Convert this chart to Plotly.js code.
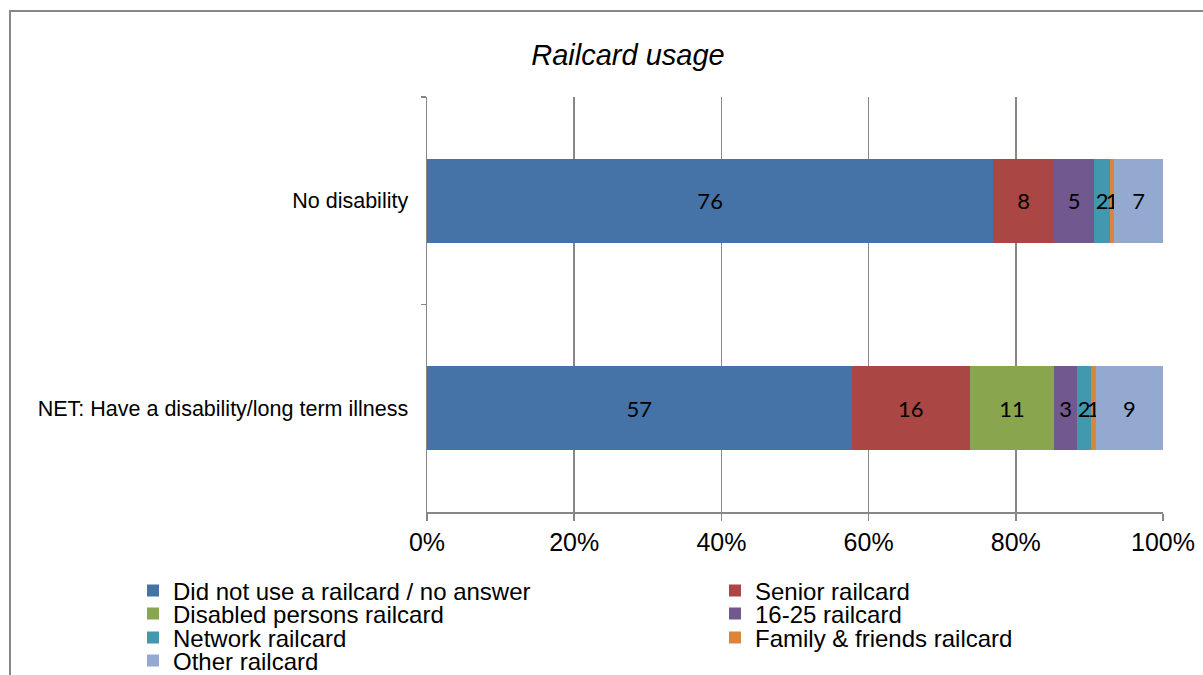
<!DOCTYPE html>
<html>
<head>
<meta charset="utf-8">
<script src="https://cdn.plot.ly/plotly-3.0.1.min.js"></script>
<style>
  html, body { margin: 0; padding: 0; background: #ffffff; }
  #chart { width: 1203px; height: 675px; }
</style>
</head>
<body>
<div id="chart"></div>
<script>
// ---- Data ----
const categories = ['No disability', 'NET: Have a disability/long term illness'];
const seriesNames = [
  'Did not use a railcard / no answer',
  'Senior railcard',
  'Disabled persons railcard',
  '16-25 railcard',
  'Network railcard',
  'Family & friends railcard',
  'Other railcard'
];
const didNotUse = [76.4, 57.4];
const senior    = [8.2, 16.0];
const disabled  = [null, 11.4];
const youth     = [5.4, 3.1];
const network   = [2.2, 1.9];
const family    = [0.5, 0.6];
const other     = [6.6, 9.1];
const seriesValues = [didNotUse, senior, disabled, youth, network, family, other];
const xTickVals = [0, 20, 40, 60, 80, 100];
const xTickLabels = ['0%', '20%', '40%', '60%', '80%', '100%'];
const titleText = 'Railcard usage';

// ---- Styles ----
const colors = ['#4572A7', '#AA4643', '#89A54E', '#71588F', '#4198AF', '#DB843D', '#93A9CF'];
const W = 1203, H = 675;
const M = { l: 427, r: 40, t: 97, b: 163 };
const plotW = W - M.l - M.r, plotH = H - M.t - M.b;
const px2x = p => (p - M.l) / plotW;
const py2y = p => (H - M.b - p) / plotH;
const gray = '#878787';
const sans = 'Liberation Sans, Arial, sans-serif';

const traces = seriesNames.map((name, i) => ({
  type: 'bar',
  orientation: 'h',
  name: name,
  y: categories,
  x: seriesValues[i],
  text: seriesValues[i].map(v => (v === null || v === 0) ? '' : String(Math.round(v))),
  textposition: 'inside',
  insidetextanchor: 'middle',
  textangle: 0,
  constraintext: 'none',
  textfont: { family: 'Lato, Carlito, Calibri, sans-serif', size: 22, color: '#000000' },
  marker: { color: colors[i], line: { width: 0 } },
  legend: i === 0 ? 'legend' : 'legend' + (i + 1),
  hoverinfo: 'name+x'
}));

const legendRowsPx = [591, 614, 638, 661];
const legendColsPx = [133, 715];

const layout = {
  width: W, height: H,
  margin: { l: M.l, r: M.r, t: M.t, b: M.b, autoexpand: false },
  paper_bgcolor: '#ffffff',
  plot_bgcolor: '#ffffff',
  barmode: 'stack',
  barnorm: 'percent',
  bargap: 0.595,
  title: {
    text: titleText,
    font: { family: sans, size: 29, style: 'italic', color: '#000000' },
    x: 628 / W, xanchor: 'center', xref: 'container',
    y: 1 - 55 / H, yanchor: 'middle', yref: 'container'
  },
  xaxis: {
    range: [0, 100],
    tickmode: 'array',
    tickvals: xTickVals,
    ticktext: xTickLabels,
    showgrid: true, gridcolor: gray, gridwidth: 1.5,
    showline: true, linecolor: gray, linewidth: 1.5,
    ticks: 'outside', ticklen: 7, tickcolor: gray, tickwidth: 1.5,
    tickfont: { family: sans, size: 25, color: '#000000' },
    zeroline: false, fixedrange: true
  },
  yaxis: {
    type: 'category',
    autorange: 'reversed',
    showline: true, linecolor: gray, linewidth: 1.5,
    ticks: 'outside', ticklen: 5, tickcolor: gray, tickwidth: 1.5,
    tickson: 'boundaries',
    ticklabelstandoff: 13,
    showgrid: false, zeroline: false,
    tickfont: { family: sans, size: 21.5, color: '#000000' },
    fixedrange: true
  },
  uniformtext: { mode: 'show', minsize: 22 },
  shapes: [{
    type: 'rect', xref: 'paper', yref: 'paper',
    x0: px2x(10), x1: px2x(W + 20), y0: py2y(H + 20), y1: py2y(11),
    line: { color: gray, width: 2 }, fillcolor: 'rgba(0,0,0,0)', layer: 'below'
  }],
  showlegend: true
};

seriesNames.forEach((n, i) => {
  const key = i === 0 ? 'legend' : 'legend' + (i + 1);
  layout[key] = {
    x: px2x(legendColsPx[i % 2]), xanchor: 'left',
    y: py2y(legendRowsPx[Math.floor(i / 2)]), yanchor: 'middle',
    xref: 'paper', yref: 'paper',
    orientation: 'v',
    bgcolor: 'rgba(0,0,0,0)', borderwidth: 0,
    font: { family: sans, size: 24, color: '#000000' },
    itemclick: false, itemdoubleclick: false
  };
});

Plotly.newPlot('chart', traces, layout, { displayModeBar: false, staticPlot: true });
</script>
</body>
</html>
